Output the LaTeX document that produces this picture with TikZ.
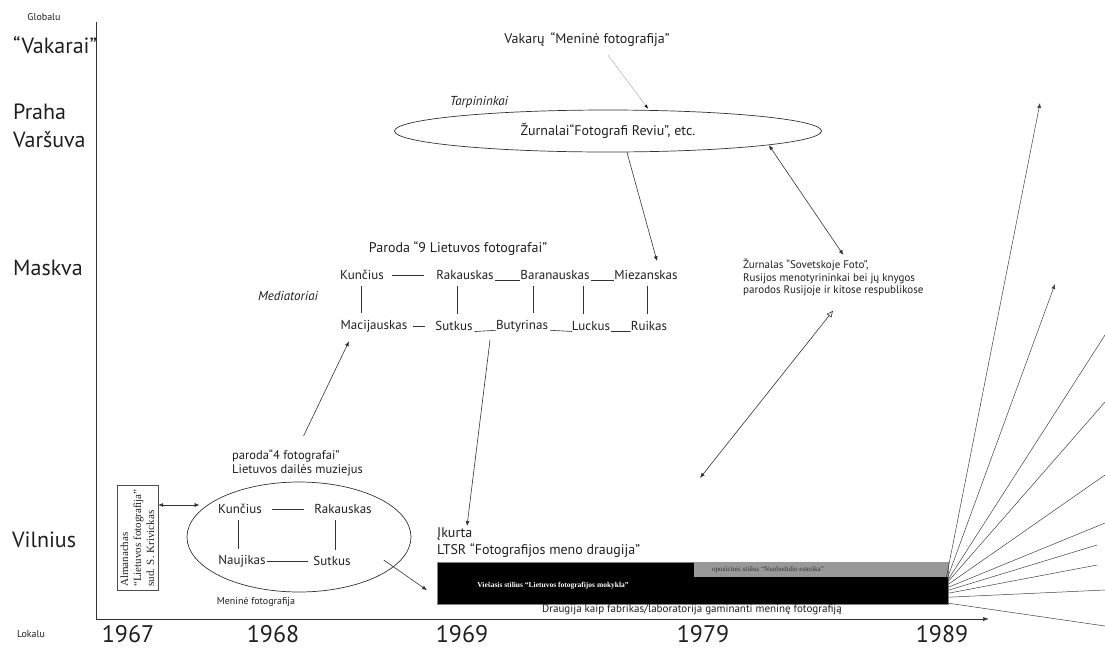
\documentclass[tikz,border=0pt]{standalone}
\usepackage{fontspec}
\setmainfont{PT Sans}
\newfontfamily\timesface{Liberation Serif}
\usetikzlibrary{shapes.geometric,arrows.meta}
\begin{document}
\begin{tikzpicture}[x=1pt,y=-1pt,
  every node/.style={inner sep=0pt,text=black!88},
  city/.style={anchor=west,align=left,font=\fontsize{22}{28}\selectfont},
  year/.style={font=\fontsize{24}{26}\selectfont},
  small/.style={font=\fontsize{10}{12}\selectfont},
  mid/.style={font=\fontsize{14}{18}\selectfont},
  nm/.style={font=\fontsize{13}{15}\selectfont},
  tag/.style={font=\itshape\fontsize{13}{15}\selectfont},
  link/.style={draw=black!80,line width=0.6pt},
  arr/.style={link,-{Latex[length=5pt,width=4pt]}},
  darr/.style={link,{Latex[length=5pt,width=4pt]}-{Latex[length=5pt,width=4pt]}},
  oarr/.style={link,{Latex[length=5pt,width=4pt]}-{Latex[open,length=7pt,width=6pt]}},
  ring/.style={ellipse,draw=black!80,line width=0.7pt},
  ray/.style={draw=black!75,line width=0.5pt},
]
\useasboundingbox (0,0) rectangle (1105,657);

% axes
\coordinate (ytop) at (96,22);
\coordinate (orig) at (96,619);
\coordinate (xend) at (989,619);
\draw[link,-{Latex[length=6pt,width=4pt]}] (ytop) -- (orig) -- (xend);

% scale labels
\node[small] (glob) at (44,17) {Globalu};
\node[small] (lok) at (31,634) {Lokalu};
\node[city] (west) at (13,45) {“Vakarai”};
\node[city] (prv) at (13,126) {Praha\\Varšuva};
\node[city] (msk) at (13,268) {Maskva};
\node[city] (vln) at (12,540) {Vilnius};

% years
\node[year] (y67) at (128,634) {1967};
\node[year] (y68) at (273,634) {1968};
\node[year] (y69) at (462,634) {1969};
\node[year] (y79) at (703,634) {1979};
\node[year] (y89) at (942,634) {1989};

% western influence and the journals
\node[mid] (vak) at (587,40) {Vakarų \,“Meninė fotografija”};
\node[tag] (tarp) at (479,102) {Tarpininkai};
\node[ring,minimum width=427pt,minimum height=42pt,mid] (zur) at (608,131) {Žurnalai“Fotografi Reviu”, etc.};
\draw[draw=black!45,line width=0.3pt,-{Latex[black,length=4pt,width=3pt]}] ([xshift=21pt,yshift=-8pt]vak.south) -- ([xshift=40pt,yshift=1pt]zur.north);

% exhibition "9 Lietuvos fotografai"
\node[mid] (p9) at (458,249) {Paroda “9 Lietuvos fotografai”};
\node[tag] (med) at (288,296) {Mediatoriai};
\node[nm] (kun) at (362,275) {Kunčius};
\node[nm] (rak) at (465,275) {Rakauskas};
\node[nm] (bar) at (555,275) {Baranauskas};
\node[nm] (mie) at (646,275) {Miezanskas};
\node[nm] (mac) at (374,326) {Macijauskas};
\node[nm] (sut) at (454,326) {Sutkus};
\node[nm] (but) at (522,326) {Butyrinas};
\node[nm] (luc) at (591,326) {Luckus};
\node[nm] (rui) at (649,326) {Ruikas};

\draw[link] ([xshift=8pt]kun.east) -- ([xshift=-12pt]rak.west);
\draw[link] ([xshift=1pt,yshift=-1pt]rak.base east) -- ([yshift=-1pt]bar.base west);
\draw[link] ([xshift=1pt,yshift=-1pt]bar.base east) -- ([yshift=-1pt]mie.base west);
\draw[link] ([xshift=5pt]mac.east) -- ([xshift=-10pt]sut.west);
\draw[link] ([xshift=2pt,yshift=-1pt]sut.base east) -- ([yshift=-1pt]but.base west);
\draw[link] ([xshift=2pt,yshift=-1pt]but.base east) -- ([yshift=-1pt]luc.base west);
\draw[link] ([xshift=1pt,yshift=-1pt]luc.base east) -- ([yshift=-1pt]rui.base west);

\draw[link] ([xshift=-1pt,yshift=-6pt]kun.south) -- ([xshift=-13pt,yshift=7pt]mac.north);
\draw[link] ([xshift=-8pt,yshift=-6pt]rak.south) -- ([xshift=3pt,yshift=7pt]sut.north);
\draw[link] ([xshift=-22pt,yshift=-6pt]bar.south) -- ([xshift=11pt,yshift=7pt]but.north);
\draw[link] ([xshift=28pt,yshift=-6pt]bar.south) -- ([xshift=-8pt,yshift=7pt]luc.north);
\draw[link] ([xshift=1pt,yshift=-6pt]mie.south) -- ([xshift=-2pt,yshift=7pt]rui.north);

\draw[arr] ([xshift=19pt]zur.south) -- ([xshift=11pt,yshift=9pt]mie.north);

% Soviet channels
\node[anchor=north west,align=left,font=\fontsize{11}{12.5}\selectfont] (sov) at (743,259)
  {Žurnalas “Sovetskoje Foto”,\\Rusijos menotyrininkai bei jų knygos\\parodos Rusijoje ir kitose respublikose};
\draw[darr] (zur.-5) -- ([xshift=10pt,yshift=4pt]sov.north);
\coordinate (mid79) at (700,478);
\draw[oarr] (mid79) -- ([yshift=-14pt]sov.south);

% exhibition "4 fotografai"
\node[anchor=north west,align=left,font=\fontsize{12.5}{13.5}\selectfont] (p4) at (232,450)
  {paroda“4 fotografai”\\Lietuvos dailės muziejus};
\node[ring,minimum width=224pt,minimum height=110pt] (e4) at (299,537) {};
\node[nm] (kun2) at (240,509) {Kunčius};
\node[nm] (rak2) at (343,509) {Rakauskas};
\node[nm] (nau2) at (242,561) {Naujikas};
\node[nm] (sut2) at (332,561) {Sutkus};
\draw[link] ([xshift=10pt]kun2.east) -- ([xshift=-10pt]rak2.west);
\draw[link] ([xshift=1pt]nau2.east) -- ([xshift=-5pt]sut2.west);
\draw[link] ([xshift=-2pt,yshift=-6pt]kun2.south) -- ([xshift=-4pt,yshift=6pt]nau2.north);
\draw[link] ([xshift=-8pt,yshift=-6pt]rak2.south) -- ([xshift=3pt,yshift=6pt]sut2.north);
\node[small] (men) at (256,602) {Meninė fotografija};
\draw[arr] ([xshift=6pt,yshift=14pt]p4.north) -- ([xshift=-25pt,yshift=-9pt]mac.south);

% almanac
\node[draw=black!70,line width=0.6pt,rotate=90,align=left,inner sep=3.5pt,
      font=\timesface\fontsize{11}{13}\selectfont] (alm) at (137.5,538)
  {Almanachas\\“Lietuvos fotografija”\\sud. S. Krivickas};
\draw[darr] ([yshift=33pt]alm.south) -- ([xshift=13pt,yshift=32pt]e4.west);

% the society
\node[anchor=north west,align=left,font=\fontsize{14}{17.5}\selectfont] (lt) at (437,527)
  {Įkurta\\LTSR “Fotografijos meno draugija”};
\node[draw=black!50,fill=black,line width=0.4pt,minimum width=511pt,minimum height=42pt,anchor=north west] (blk) at (437,562) {};
\node[fill=black!40,minimum width=254pt,minimum height=15pt,anchor=north east] (opp) at (blk.north east) {};
\node[text=white,font=\timesface\bfseries\fontsize{7.5}{8}\selectfont] (pub) at (553,586)
  {Viešasis stilius “Lietuvos fotografijos mokykla”};
\node[text=black!80,font=\timesface\fontsize{7}{8}\selectfont] (oppt) at (768,570)
  {opozicinis stilius “Nuobodulio estetika”};
\node[font=\fontsize{11}{13}\selectfont] (fab) at (692,610)
  {Draugija kaip fabrikas/laboratorija gaminanti meninę fotografiją};
\draw[arr] ([xshift=-32pt,yshift=-8pt]but.south) -- ([xshift=30pt,yshift=1pt]lt.north west);
\draw[arr] ([xshift=33pt,yshift=1pt]sut2.east) -- ([xshift=-10pt,yshift=-7pt]blk.west);

% spread after 1989
\coordinate (f1) at (1040,103);
\coordinate (f2) at (1055,284);
\coordinate (f3) at (1105,335);
\coordinate (f4) at (1105,402);
\coordinate (f5) at (1105,475);
\coordinate (f6) at (1105,523);
\coordinate (f7) at (1097,545);
\coordinate (f8) at (1097,565);
\coordinate (f9) at (1105,590);
\coordinate (f10) at (1105,626);
\draw[ray,-{Latex[length=5pt,width=4pt]}] ([xshift=-2pt,yshift=6pt]blk.east) -- (f1);
\draw[ray,-{Latex[length=5pt,width=4pt]}] ([xshift=-1pt,yshift=5pt]blk.east) -- (f2);
\foreach \t/\s in {f3/4,f4/2,f5/-1,f6/-4,f7/-7,f8/-10,f9/-14,f10/-20}
  \draw[ray] ([yshift=\s pt]blk.east) -- (\t);
\end{tikzpicture}
\end{document}
